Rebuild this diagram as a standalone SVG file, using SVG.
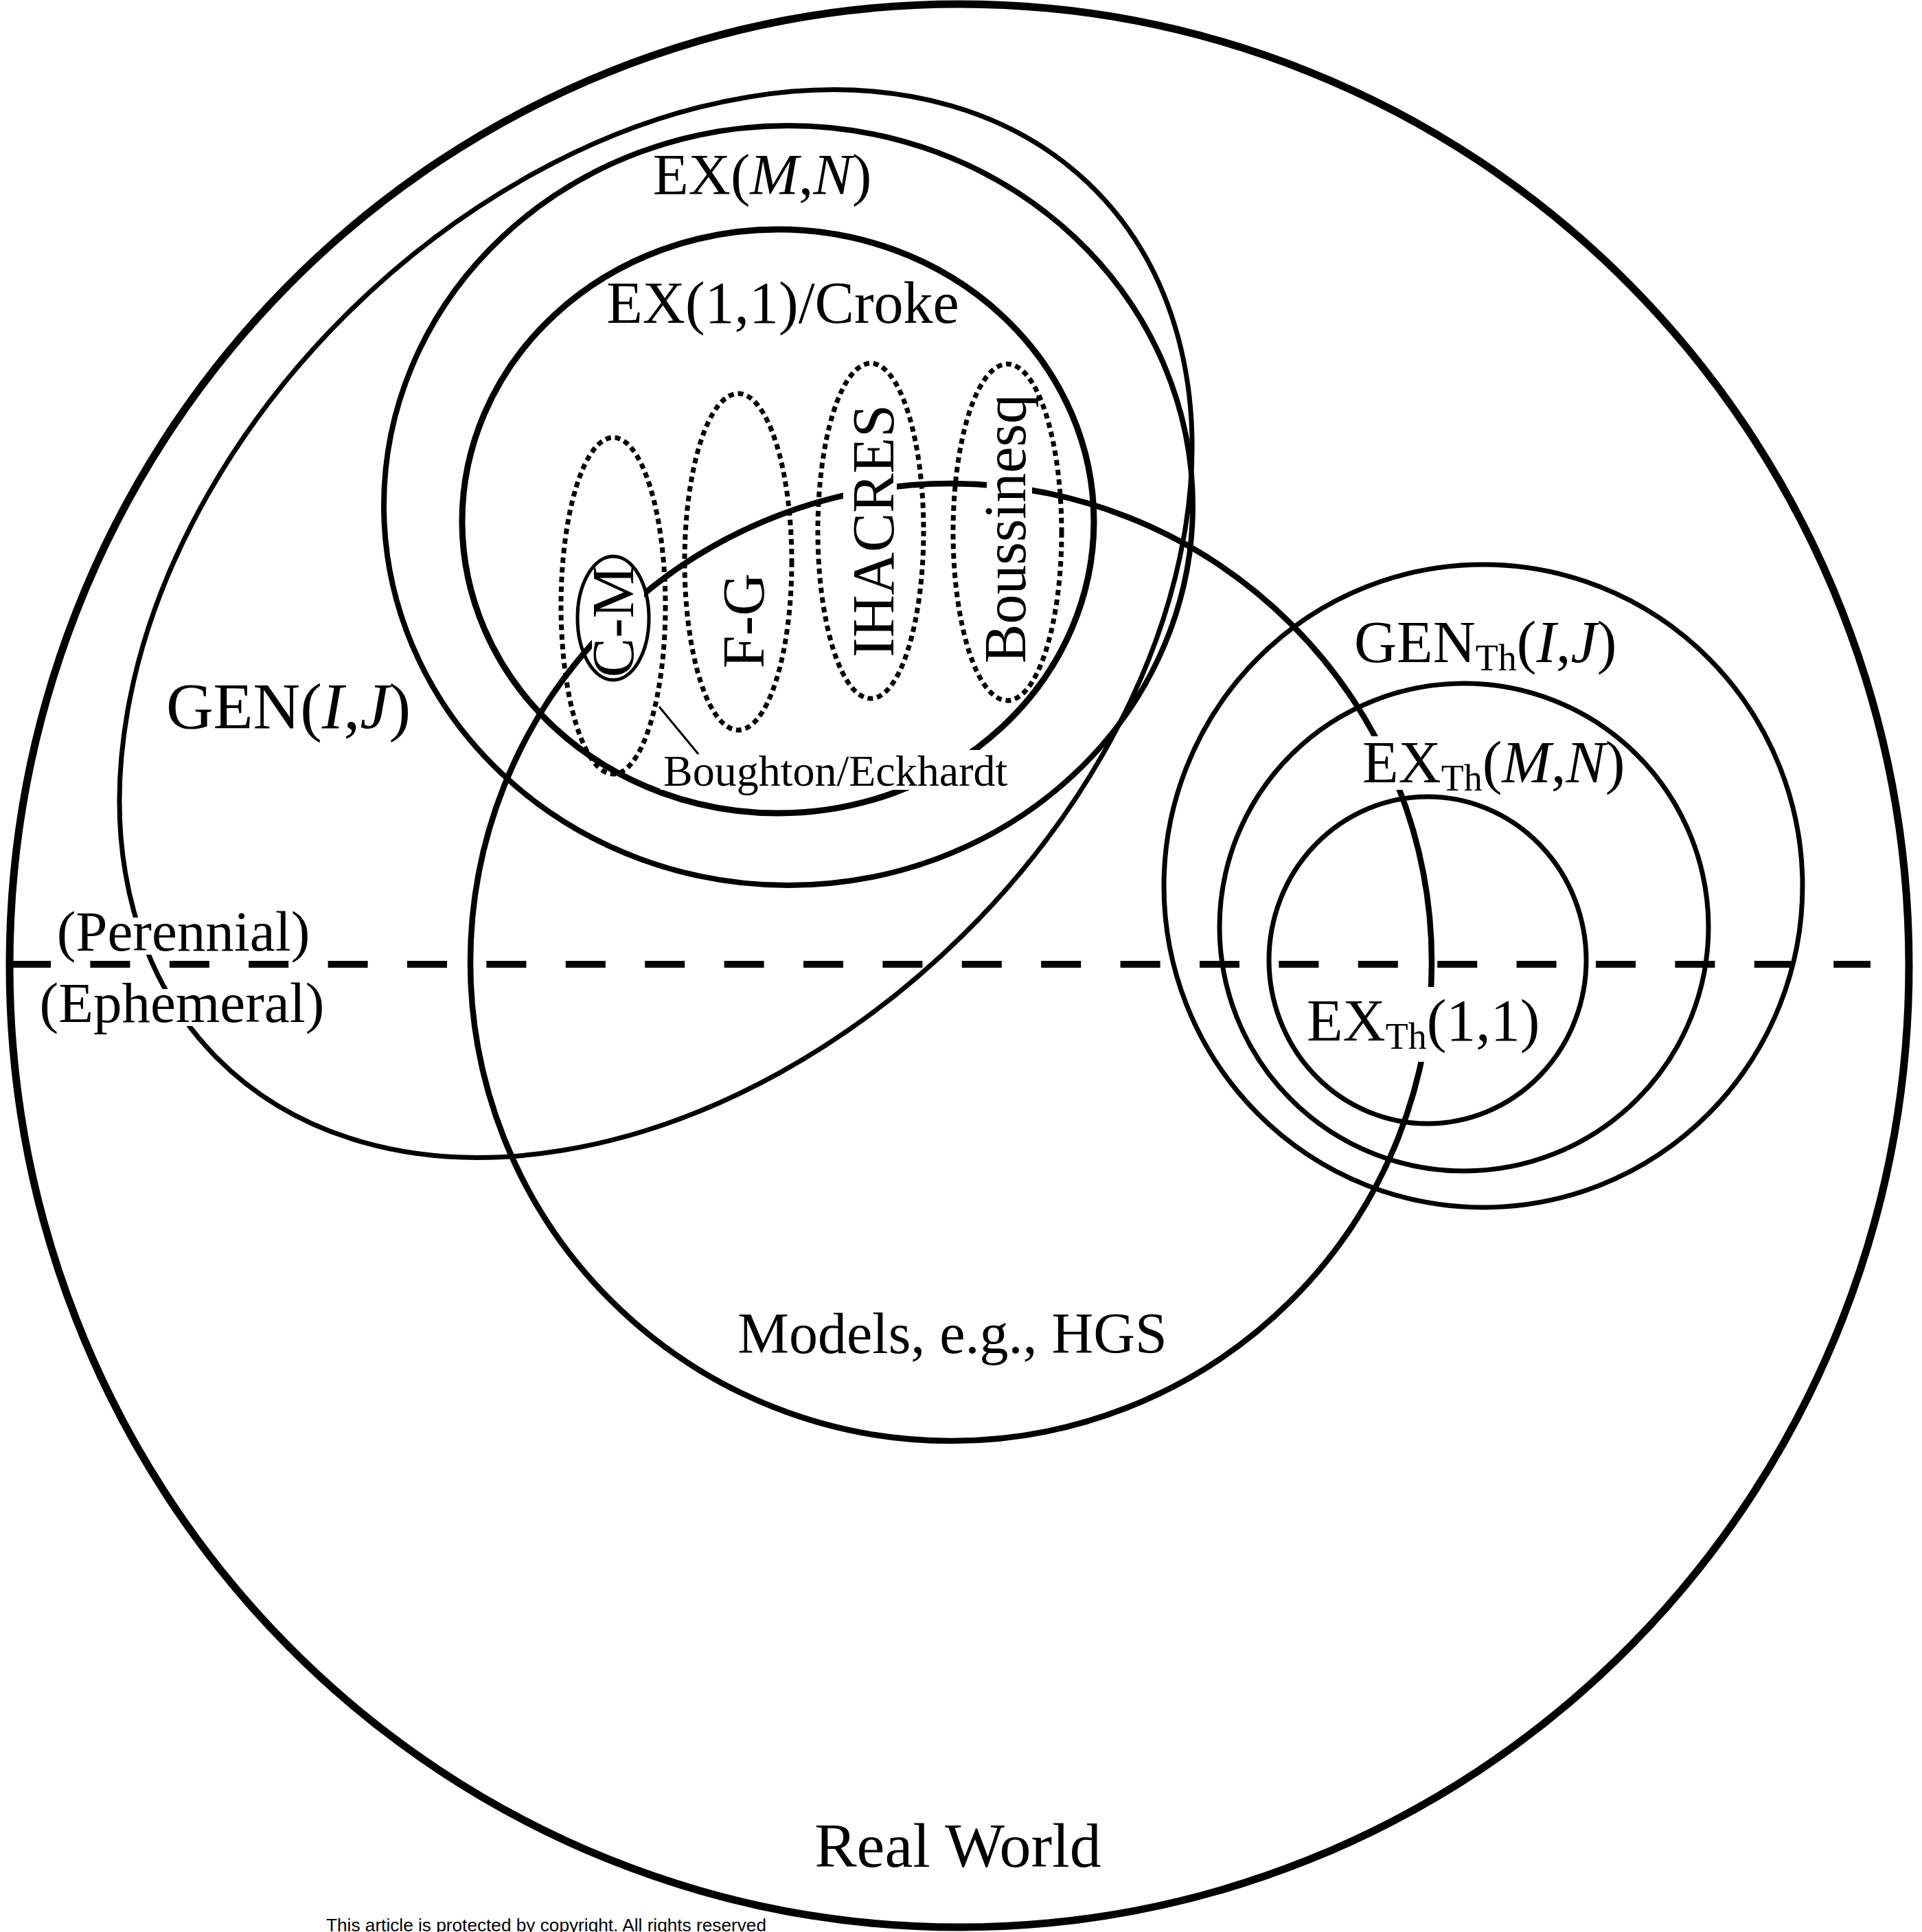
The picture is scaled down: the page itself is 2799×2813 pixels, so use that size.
<svg xmlns="http://www.w3.org/2000/svg" width="2799" height="2813" viewBox="0 0 2799 2813">
<style>
.ln{fill:none;stroke:#000}
.dot{fill:none;stroke:#000;stroke-width:7;stroke-dasharray:8 6}
.t{font-family:"Liberation Serif","Times New Roman",serif;fill:#000}
.i{font-style:italic}
</style>
<defs>
<mask id="mModels" maskUnits="userSpaceOnUse" x="0" y="0" width="2799" height="2813">
<rect x="0" y="0" width="2799" height="2813" fill="#fff"/>
<rect x="862" y="830" width="76" height="165" fill="#000"/>
<rect x="1228" y="585" width="78" height="375" fill="#000"/>
<rect x="1437" y="570" width="66" height="400" fill="#000"/>
<rect x="1980" y="1072" width="390" height="78" fill="#000"/>
<rect x="1895" y="1437" width="360" height="109" fill="#000"/>
</mask>
<mask id="mGen" maskUnits="userSpaceOnUse" x="0" y="0" width="2799" height="2813">
<rect x="0" y="0" width="2799" height="2813" fill="#fff"/>
<rect x="75" y="1336" width="385" height="54" fill="#000"/>
<rect x="50" y="1440" width="430" height="54" fill="#000"/>
</mask>
<mask id="mCroke" maskUnits="userSpaceOnUse" x="0" y="0" width="2799" height="2813">
<rect x="0" y="0" width="2799" height="2813" fill="#fff"/>
<rect x="962" y="1092" width="510" height="58" fill="#000"/>
</mask>
</defs>
<rect x="0" y="0" width="2799" height="2813" fill="#fff"/>
<g id="connectors">
<line x1="16" y1="1404" x2="2724" y2="1404" stroke="#000" stroke-width="10" stroke-dasharray="58 57.4"/>
<line x1="960" y1="1029" x2="1017" y2="1098" stroke="#000" stroke-width="3"/>
</g>
<g id="real-world">
<ellipse class="ln" cx="1397" cy="1406" rx="1383" ry="1400" stroke-width="11"/>
<text class="t" x="1395" y="2718" font-size="92" text-anchor="middle">Real World</text>
</g>
<g id="models">
<ellipse class="ln" cx="1385" cy="1401" rx="700" ry="697" stroke-width="8.5" mask="url(#mModels)"/>
<text class="t" x="1387" y="1970" font-size="84" text-anchor="middle">Models, e.g., HGS</text>
</g>
<g id="gen">
<g mask="url(#mGen)">
<ellipse class="ln" cx="0" cy="0" rx="899" ry="637" stroke-width="7" transform="translate(955 908) rotate(-44.6)"/>
</g>
<text class="t" x="420" y="1061" font-size="95" text-anchor="middle">GEN(<tspan class="i">I</tspan>,<tspan class="i">J</tspan>)</text>
</g>
<g id="ex-mn">
<ellipse class="ln" cx="1148" cy="736" rx="589" ry="553" stroke-width="8"/>
<text class="t" x="1110" y="283" font-size="85" text-anchor="middle">EX(<tspan class="i">M</tspan>,<tspan class="i">N</tspan>)</text>
</g>
<g id="ex-11-croke">
<ellipse class="ln" cx="1133" cy="759" rx="460" ry="425" stroke-width="9" mask="url(#mCroke)"/>
<text class="t" x="1140" y="470" font-size="86" text-anchor="middle">EX(1,1)/Croke</text>
</g>
<g id="cm-dotted">
<ellipse class="dot" cx="893" cy="882" rx="76" ry="245"/>
</g>
<g id="cm">
<ellipse class="ln" cx="893" cy="900" rx="52" ry="90" stroke-width="5"/>
<text class="t" font-size="86" text-anchor="middle" transform="translate(922 905) rotate(-90)">C-M</text>
</g>
<g id="fg">
<ellipse class="dot" cx="1075" cy="818" rx="78" ry="245"/>
<text class="t" font-size="86" text-anchor="middle" transform="translate(1112 904) rotate(-90)">F-G</text>
</g>
<g id="ihacres">
<ellipse class="dot" cx="1268" cy="773" rx="77" ry="244"/>
<text class="t" font-size="86" text-anchor="middle" transform="translate(1301 773) rotate(-90)">IHACRES</text>
</g>
<g id="boussinesq">
<ellipse class="dot" cx="1467" cy="775" rx="79" ry="245"/>
<text class="t" font-size="86" text-anchor="middle" transform="translate(1493 770) rotate(-90)">Boussinesq</text>
</g>
<g id="boughton-eckhardt">
<text class="t" x="966" y="1144" font-size="64">Boughton/Eckhardt</text>
</g>
<g id="perennial-ephemeral">
<text class="t" x="267" y="1384" font-size="83" text-anchor="middle">(Perennial)</text>
<text class="t" x="265" y="1488" font-size="83" text-anchor="middle">(Ephemeral)</text>
</g>
<g id="gen-th">
<ellipse class="ln" cx="2160" cy="1290" rx="465" ry="468" stroke-width="7"/>
<text class="t" x="1972" y="964" font-size="86">GEN<tspan font-size="54" dy="12">Th</tspan><tspan dy="-12">(</tspan><tspan class="i">I</tspan>,<tspan class="i">J</tspan>)</text>
</g>
<g id="ex-th-mn">
<ellipse class="ln" cx="2132" cy="1350" rx="356" ry="355" stroke-width="7"/>
<text class="t" x="1984" y="1139" font-size="86">EX<tspan font-size="54" dy="12">Th</tspan><tspan dy="-12">(</tspan><tspan class="i">M</tspan>,<tspan class="i">N</tspan>)</text>
</g>
<g id="ex-th-11">
<ellipse class="ln" cx="2079" cy="1398" rx="231" ry="238" stroke-width="7"/>
<text class="t" x="1903" y="1515" font-size="86">EX<tspan font-size="54" dy="12">Th</tspan><tspan dy="-12">(1,1)</tspan></text>
</g>
<text x="475" y="2812" font-family="'Liberation Sans',Arial,sans-serif" font-size="26" textLength="641" lengthAdjust="spacingAndGlyphs" fill="#000">This article is protected by copyright. All rights reserved</text>
</svg>
